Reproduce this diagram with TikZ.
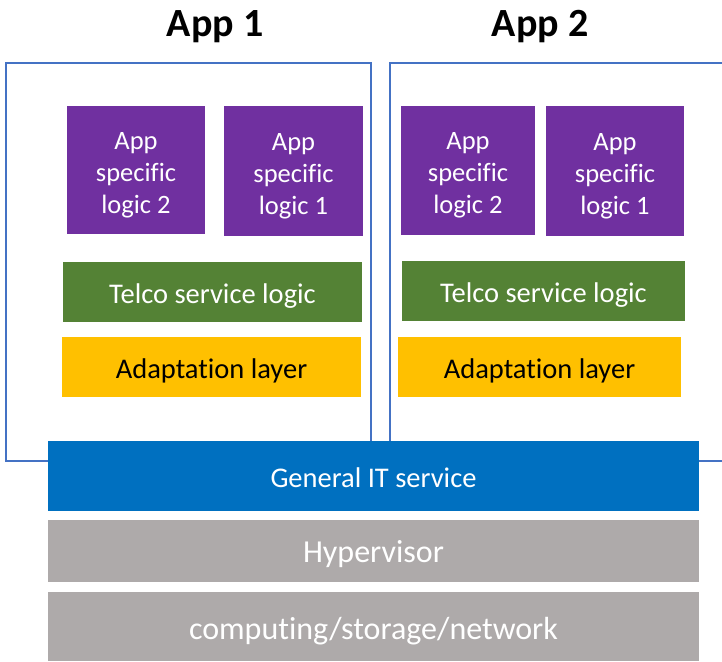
\documentclass[tikz,border=0pt]{standalone}
\usepackage{fontspec}
\setmainfont[Ligatures={NoCommon}]{Carlito}
\definecolor{cpurple}{HTML}{7030A0}
\definecolor{cgreen}{HTML}{548235}
\definecolor{cyellow}{HTML}{FFC000}
\definecolor{cblue}{HTML}{0070C0}
\definecolor{cgray}{HTML}{AEAAAA}
\definecolor{cframe}{HTML}{4472C4}
\newcommand{\dn}[2]{\raisebox{-#1pt}[\height][\depth]{\begin{tabular}{@{}c@{}}#2\end{tabular}}}
\begin{document}
\begin{tikzpicture}[x=1pt,y=-1pt,
  blk/.style={inner sep=0pt,outer sep=0pt},
  purp/.style={blk,fill=cpurple,text=white,font=\fontsize{26.5}{32}\selectfont},
  grn/.style={blk,fill=cgreen,text=white,font=\fontsize{28.5}{32}\selectfont},
  ylw/.style={blk,fill=cyellow,text=black,font=\fontsize{28.5}{32}\selectfont},
  blu/.style={blk,fill=cblue,text=white,font=\fontsize{28.5}{32}\selectfont},
  gry/.style={blk,fill=cgray,text=white,font=\fontsize{32}{36}\selectfont},
  appframe/.style={draw=cframe,line width=2pt},
  ttl/.style={inner sep=0pt,font=\fontsize{40}{44}\selectfont\bfseries}]
\useasboundingbox (0,0) rectangle (722,661);
\fill[white] (0,0) rectangle (722,661);
% frames
\draw[appframe] (6,63) rectangle (371,461);
\draw[appframe] (390,63) rectangle (740,461);
% titles
\node[ttl] (t1) at (215,27) {App 1};
\node[ttl] (t2) at (540,27) {App 2};
% purple
\node[purp,minimum width=138,minimum height=128] (p1) at (136,170) {\dn{5}{App\\specific\\logic 2}};
\node[purp,minimum width=139,minimum height=130] (p2) at (293.5,171) {\dn{5}{App\\specific\\logic 1}};
\node[purp,minimum width=134,minimum height=129] (p3) at (468,170.5) {\dn{5}{App\\specific\\logic 2}};
\node[purp,minimum width=138,minimum height=130] (p4) at (615,171) {\dn{5}{App\\specific\\logic 1}};
% green
\node[grn,minimum width=299,minimum height=60] (g1) at (212.5,292) {\dn{5}{Telco service logic}};
\node[grn,minimum width=283,minimum height=60] (g2) at (543.5,291) {\dn{5}{Telco service logic}};
% yellow
\node[ylw,minimum width=299,minimum height=60] (y1) at (211.5,367) {\dn{5}{Adaptation layer}};
\node[ylw,minimum width=283,minimum height=60] (y2) at (539.5,367) {\dn{5}{Adaptation layer}};
% bottom layers
\node[blu,minimum width=651,minimum height=70] (it) at (373.5,476) {\dn{5}{General IT service}};
\node[gry,minimum width=651,minimum height=62] (hv) at (373.5,551) {\dn{4}{Hypervisor}};
\node[gry,minimum width=651,minimum height=69] (hw) at (373.5,626.5) {\dn{6}{computing/storage/network}};
\end{tikzpicture}
\end{document}
